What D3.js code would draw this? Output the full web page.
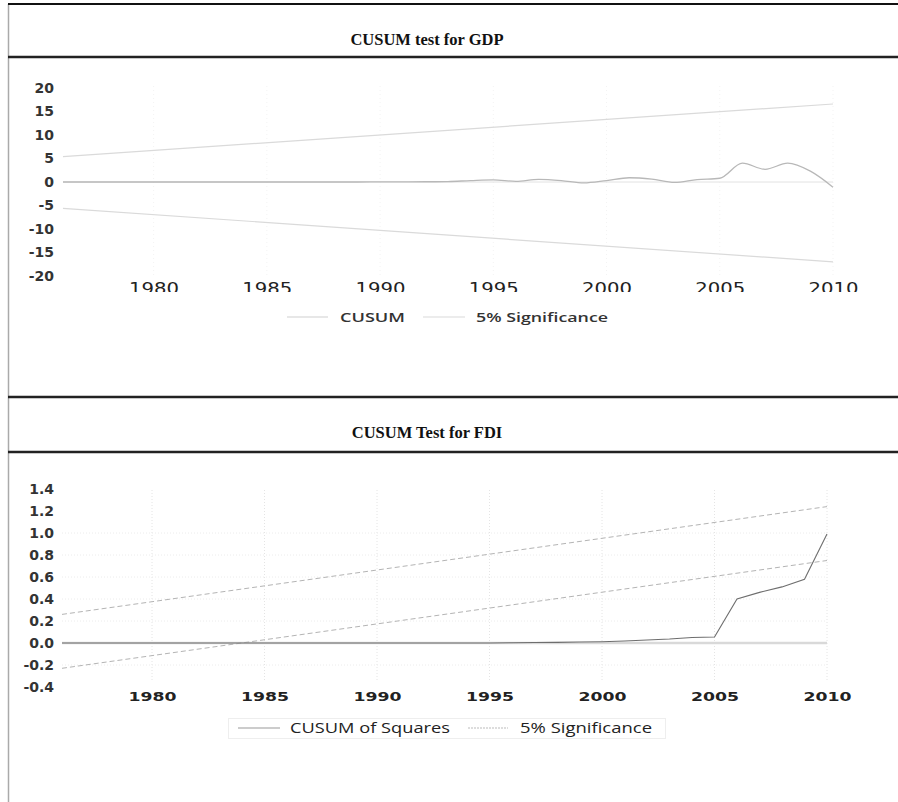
<!DOCTYPE html>
<html>
<head>
<meta charset="utf-8">
<script src="https://cdn.jsdelivr.net/npm/d3@7"></script>
<style>
  html, body { margin: 0; padding: 0; background: #fff; }
  svg { display: block; }
</style>
</head>
<body>
<svg id="chart" width="898" height="802"></svg>
<script>
// ---- data ----
const years = d3.range(1976, 2011);

// CUSUM test for GDP
const gdpCusum = [0, 0, 0, 0, 0, 0, 0, 0, 0, 0, 0, 0, 0, 0, 0.02, 0.03,
  0.05, 0.1, 0.3, 0.45, 0.15, 0.55, 0.3, -0.2, 0.3, 0.9, 0.6, -0.1, 0.5, 0.8,
  4.0, 2.7, 4.0, 2.3, -1.1];
const gdpBoundYears = [1976, 2010];
const gdpUpper = [5.4, 16.6];
const gdpLower = [-5.6, -17.0];
const gdpTicksY = [20, 15, 10, 5, 0, -5, -10, -15, -20];

// CUSUM of squares test for FDI
const fdiCusumSq = [0, 0, 0, 0, 0, 0, 0, 0, 0, 0, 0, 0, 0, 0, 0, 0,
  0, 0, 0, 0, 0.002, 0.004, 0.006, 0.009, 0.012, 0.018, 0.027, 0.036, 0.05, 0.055,
  0.40, 0.46, 0.51, 0.58, 0.99];
const fdiBoundYears = [1976, 2010];
const fdiUpper = [0.26, 1.24];
const fdiLower = [-0.23, 0.75];
const fdiTicksY = [1.4, 1.2, 1.0, 0.8, 0.6, 0.4, 0.2, 0.0, -0.2, -0.4];

const xTicks = [1980, 1985, 1990, 1995, 2000, 2005, 2010];

// plain hyphen for negative numbers
const hy = f => v => f(v).replace("\u2212", "-");

// ---- page frame ----
const svg = d3.select("#chart");
svg.append("line").attr("x1", 8.5).attr("x2", 8.5).attr("y1", 4).attr("y2", 802)
  .attr("stroke", "#aaa").attr("stroke-width", 1.5);
[[4, 2, "#111"], [57, 2.5, "#222"], [397, 2.5, "#222"], [452, 2.5, "#222"]].forEach(([y, w, c]) => {
  svg.append("line").attr("x1", 8).attr("x2", 898).attr("y1", y).attr("y2", y)
    .attr("stroke", c).attr("stroke-width", w);
});

function title(text, y) {
  svg.append("text").attr("x", 427).attr("y", y).attr("text-anchor", "middle")
    .attr("font-family", "'Liberation Serif', 'Times New Roman', serif")
    .attr("font-weight", "bold").attr("font-size", 16.5).attr("fill", "#111")
    .text(text);
}
title("CUSUM test for GDP", 45);
title("CUSUM Test for FDI", 438);

const tickFont = "'DejaVu Sans', Verdana, sans-serif";
const legendFont = "'Open Sans', 'Noto Sans', sans-serif";

// ---- GDP panel ----
{
  const x = d3.scaleLinear().domain([1976, 2010]).range([63, 833]);
  const y = d3.scaleLinear().domain([-20, 20]).range([276, 88]);
  const g = svg.append("g");

  // faint vertical gridlines
  g.selectAll(".vg").data(xTicks).join("line")
    .attr("x1", d => x(d)).attr("x2", d => x(d)).attr("y1", 86).attr("y2", 278)
    .attr("stroke", "#f3f3f3").attr("stroke-dasharray", "1,3");

  // zero axis
  g.append("line").attr("x1", x(1976)).attr("x2", x(2010)).attr("y1", y(0)).attr("y2", y(0))
    .attr("stroke", "#e2e2e2").attr("stroke-width", 1);

  // y tick labels
  g.append("g").attr("transform", "translate(54,0)")
    .call(d3.axisLeft(y).tickValues(gdpTicksY).tickSize(0).tickPadding(0).tickFormat(hy(d3.format("d"))))
    .call(a => a.select(".domain").remove())
    .selectAll("text").attr("font-family", tickFont).attr("font-weight", "bold")
    .attr("font-size", 14).attr("fill", "#333");

  // x tick labels, cut along the bottom edge of the panel
  svg.append("defs").append("clipPath").attr("id", "gdpClip")
    .append("rect").attr("x", 0).attr("y", 60).attr("width", 898).attr("height", 232);
  const xa = g.append("g").attr("clip-path", "url(#gdpClip)")
    .append("g").attr("transform", "translate(0,280)")
    .call(d3.axisBottom(x).tickValues(xTicks).tickSize(0).tickPadding(0).tickFormat(d3.format("d")));
  xa.select(".domain").remove();
  xa.selectAll("text").attr("font-family", tickFont).attr("font-size", 15)
    .attr("fill", "#222").attr("dy", "0.9em")
    .attr("textLength", 50).attr("lengthAdjust", "spacingAndGlyphs");

  const bound = d3.line().x((d, i) => x(gdpBoundYears[i])).y(d => y(d));
  g.append("path").attr("d", bound(gdpUpper)).attr("fill", "none")
    .attr("stroke", "#dadada").attr("stroke-width", 1.2);
  g.append("path").attr("d", bound(gdpLower)).attr("fill", "none")
    .attr("stroke", "#dadada").attr("stroke-width", 1.2);

  const cus = d3.line().x((d, i) => x(years[i])).y(d => y(d)).curve(d3.curveMonotoneX);
  g.append("path").attr("d", cus(gdpCusum)).attr("fill", "none")
    .attr("stroke", "#b8b8b8").attr("stroke-width", 1.3);

  // legend
  const lg = g.append("g");
  lg.append("line").attr("x1", 287).attr("x2", 328).attr("y1", 317).attr("y2", 317)
    .attr("stroke", "#cfcfcf").attr("stroke-width", 1.2);
  lg.append("text").attr("x", 340).attr("y", 317).attr("dy", "0.35em")
    .attr("font-family", legendFont).attr("font-weight", 600).attr("font-size", 13)
    .attr("fill", "#333").attr("textLength", 65).attr("lengthAdjust", "spacingAndGlyphs").text("CUSUM");
  lg.append("line").attr("x1", 423).attr("x2", 465).attr("y1", 317).attr("y2", 317)
    .attr("stroke", "#dadada").attr("stroke-width", 1.2);
  lg.append("text").attr("x", 476).attr("y", 317).attr("dy", "0.35em")
    .attr("font-family", legendFont).attr("font-weight", 600).attr("font-size", 13)
    .attr("fill", "#333").attr("textLength", 132).attr("lengthAdjust", "spacingAndGlyphs").text("5% Significance");
}

// ---- FDI panel ----
{
  const x = d3.scaleLinear().domain([1976, 2010]).range([62, 827]);
  const y = d3.scaleLinear().domain([-0.4, 1.4]).range([687, 489]);
  const g = svg.append("g");

  // dotted gridlines
  g.selectAll(".vg").data(xTicks).join("line")
    .attr("x1", d => x(d)).attr("x2", d => x(d)).attr("y1", 490).attr("y2", 682)
    .attr("stroke", "#e4e4e4").attr("stroke-dasharray", "1,2");
  g.selectAll(".hg").data(fdiTicksY.filter(v => v !== 0 && v < 1.1 && v > -0.3)).join("line")
    .attr("x1", x(1976)).attr("x2", x(2010)).attr("y1", d => y(d)).attr("y2", d => y(d))
    .attr("stroke", "#ececec").attr("stroke-dasharray", "1,2");

  // zero axis
  g.append("line").attr("x1", x(1976)).attr("x2", x(2010)).attr("y1", y(0)).attr("y2", y(0))
    .attr("stroke", "#d9d9d9").attr("stroke-width", 2.5);

  g.append("g").attr("transform", "translate(54,0)")
    .call(d3.axisLeft(y).tickValues(fdiTicksY).tickSize(0).tickPadding(0).tickFormat(hy(d3.format(".1f"))))
    .call(a => a.select(".domain").remove())
    .selectAll("text").attr("font-family", tickFont).attr("font-weight", "bold")
    .attr("font-size", 14).attr("fill", "#333");

  const xa = g.append("g").attr("transform", "translate(0,692)")
    .call(d3.axisBottom(x).tickValues(xTicks).tickSize(0).tickPadding(0).tickFormat(d3.format("d")));
  xa.select(".domain").remove();
  xa.selectAll("text").attr("font-family", tickFont).attr("font-weight", "bold").attr("font-size", 13)
    .attr("fill", "#222").attr("dy", "0.71em")
    .attr("textLength", 48).attr("lengthAdjust", "spacingAndGlyphs");

  const bound = d3.line().x((d, i) => x(fdiBoundYears[i])).y(d => y(d));
  g.append("path").attr("d", bound(fdiUpper)).attr("fill", "none")
    .attr("stroke", "#b4b4b4").attr("stroke-width", 1).attr("stroke-dasharray", "5,3");
  g.append("path").attr("d", bound(fdiLower)).attr("fill", "none")
    .attr("stroke", "#b4b4b4").attr("stroke-width", 1).attr("stroke-dasharray", "5,3");

  const cus = d3.line().x((d, i) => x(years[i])).y(d => y(d));
  g.append("path").attr("d", cus(fdiCusumSq)).attr("fill", "none")
    .attr("stroke", "#6e6e6e").attr("stroke-width", 1.1);

  // legend
  const lg = g.append("g");
  lg.append("rect").attr("x", 228.5).attr("y", 718.5).attr("width", 437).attr("height", 20)
    .attr("fill", "#fff").attr("stroke", "#eee");
  lg.append("line").attr("x1", 238).attr("x2", 280).attr("y1", 728).attr("y2", 728)
    .attr("stroke", "#999").attr("stroke-width", 1);
  lg.append("text").attr("x", 290).attr("y", 728).attr("dy", "0.35em")
    .attr("font-family", legendFont).attr("font-size", 14)
    .attr("fill", "#222").attr("textLength", 160).attr("lengthAdjust", "spacingAndGlyphs").text("CUSUM of Squares");
  lg.append("line").attr("x1", 468).attr("x2", 508).attr("y1", 728).attr("y2", 728)
    .attr("stroke", "#bbb").attr("stroke-width", 1).attr("stroke-dasharray", "2,1");
  lg.append("text").attr("x", 520).attr("y", 728).attr("dy", "0.35em")
    .attr("font-family", legendFont).attr("font-size", 14)
    .attr("fill", "#222").attr("textLength", 132).attr("lengthAdjust", "spacingAndGlyphs").text("5% Significance");
}
</script>
</body>
</html>
